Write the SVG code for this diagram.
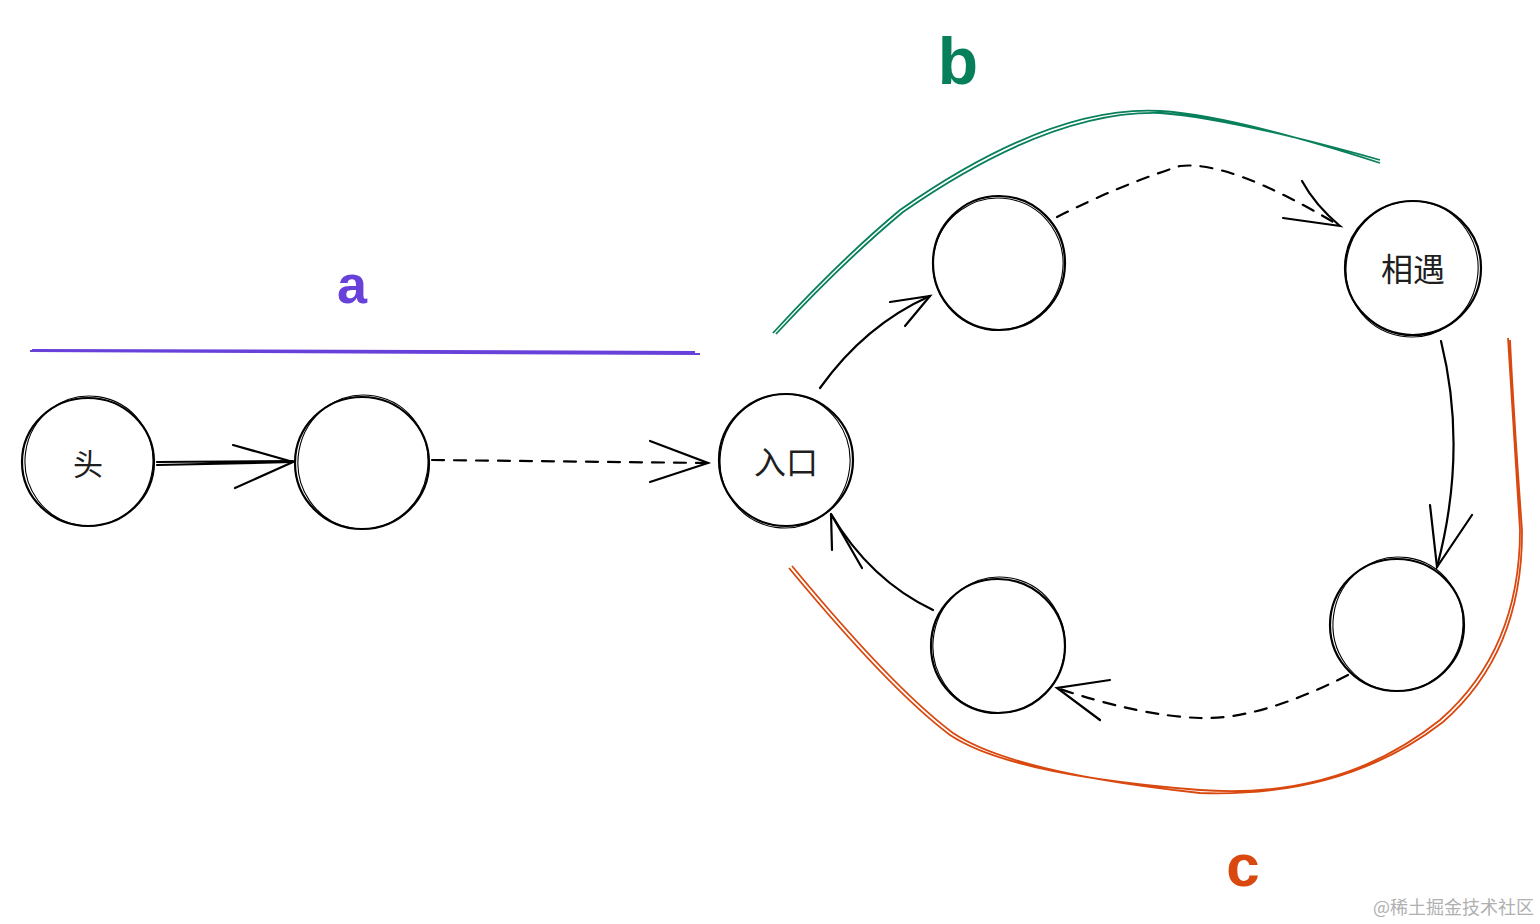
<svg xmlns="http://www.w3.org/2000/svg" width="1540" height="924" viewBox="0 0 1540 924">
<style>
.node{fill:none;stroke:#000;stroke-width:2.2}
.node2{fill:none;stroke:#000;stroke-width:1.1}
.lbl{font-family:"Noto Sans CJK SC","Noto Sans",sans-serif;fill:#1e1e1e;text-anchor:middle;dominant-baseline:central}
.conn{fill:none;stroke:#000;stroke-width:2.2;stroke-linecap:round}
.dash{stroke-dasharray:12 10}
.hand{font-family:"Liberation Sans",sans-serif;font-weight:bold;text-anchor:middle}
</style>
<rect width="1540" height="924" fill="#fff"/>
<g id="node-head">
<ellipse class="node" cx="88" cy="462" rx="66" ry="64"/>
<ellipse class="node2" cx="89" cy="461" rx="64" ry="65" transform="rotate(8 89 461)"/>
<text class="lbl" x="88" y="462" font-size="30">头</text>
</g>
<g id="node-2">
<ellipse class="node" cx="362" cy="463" rx="67" ry="66"/>
<ellipse class="node2" cx="363" cy="462" rx="65" ry="67" transform="rotate(10 363 462)"/>
</g>
<g id="node-entry">
<ellipse class="node" cx="786" cy="460" rx="67" ry="66"/>
<ellipse class="node2" cx="785" cy="461" rx="65" ry="67" transform="rotate(8 785 461)"/>
<text class="lbl" x="786" y="460" font-size="32">入口</text>
</g>
<g id="node-top">
<ellipse class="node" cx="999" cy="263" rx="66" ry="67"/>
<ellipse class="node2" cx="998" cy="264" rx="65" ry="66" transform="rotate(10 998 264)"/>
</g>
<g id="node-meet">
<ellipse class="node" cx="1413" cy="268" rx="68" ry="67"/>
<ellipse class="node2" cx="1412" cy="269" rx="66" ry="68" transform="rotate(10 1412 269)"/>
<text class="lbl" x="1413" y="267" font-size="32">相遇</text>
</g>
<g id="node-br">
<ellipse class="node" cx="1397" cy="625" rx="67" ry="66"/>
<ellipse class="node2" cx="1398" cy="624" rx="65" ry="67" transform="rotate(8 1398 624)"/>
</g>
<g id="node-bl">
<ellipse class="node" cx="998" cy="646" rx="67" ry="67"/>
<ellipse class="node2" cx="999" cy="645" rx="66" ry="68" transform="rotate(10 999 645)"/>
</g>
<g id="connectors">
<path class="conn" d="M157 462 L293 461 M157 465 L292 462"/>
<path class="conn" d="M233 445 L293 462 L235 488" />
<path class="conn dash" d="M432 460 L708 463"/>
<path class="conn" d="M650 441 L708 463 L650 482"/>
<path class="conn" d="M820 388 Q865 325 930 296"/>
<path class="conn" d="M890 302 L930 296 L905 326"/>
<path class="conn dash" d="M1057 217 Q1120 185 1180 166 Q1230 160 1340 226"/>
<path class="conn" d="M1302 181 Q1315 205 1340 226 L1283 218"/>
<path class="conn" d="M1441 341 Q1468 450 1437 567"/>
<path class="conn" d="M1430 505 L1437 567 L1472 515"/>
<path class="conn dash" d="M1348 675 Q1260 720 1200 718 Q1140 716 1057 688"/>
<path class="conn" d="M1110 680 L1057 688 L1100 720"/>
<path class="conn" d="M933 610 Q870 580 831 514"/>
<path class="conn" d="M832 550 L831 514 L862 568"/>
</g>
<g id="brace-a">
<path d="M30 351 L700 354 M32 350 L695 352" fill="none" stroke="#6741d9" stroke-width="2.2"/>
<text class="hand" x="352" y="303" font-size="54" fill="#6741d9">a</text>
</g>
<g id="brace-b">
<path d="M773 333 Q840 260 900 210 Q1050 105 1160 111 Q1230 115 1380 163 M776 334 Q843 262 903 212 Q1050 110 1160 113 Q1230 118 1380 160" fill="none" stroke="#087f5b" stroke-width="1.8"/>
<text class="hand" x="958" y="84" font-size="66" fill="#087f5b">b</text>
</g>
<g id="brace-c">
<path d="M789 568 Q890 690 950 735 Q1010 775 1200 790 Q1340 800 1440 720 Q1520 650 1520 530 Q1512 400 1508 338 M792 566 Q893 688 953 733 Q1013 773 1200 793 Q1345 798 1443 722 Q1523 652 1522 530 Q1514 420 1510 340" fill="none" stroke="#d9480f" stroke-width="1.8"/>
<text class="hand" x="1243" y="886" font-size="60" fill="#d9480f">c</text>
</g>
<text x="1534" y="914" font-family="'Noto Sans CJK SC',sans-serif" font-size="18" fill="#b0b0b0" text-anchor="end">@稀土掘金技术社区</text>
</svg>
